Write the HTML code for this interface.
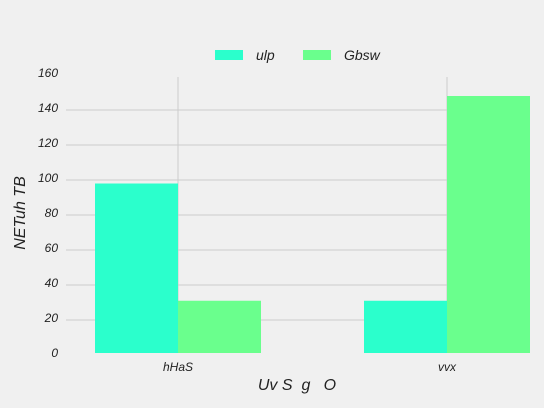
<!DOCTYPE html>
<html><head><meta charset="utf-8"><style>
body{margin:0;background:#f0f0f0}
svg{display:block;font-family:"Liberation Sans",sans-serif;font-style:italic}
</style></head><body>
<svg id="c" width="544" height="408">
<rect width="544" height="408" fill="#f0f0f0"/>
<g id="grid"></g><g id="bars"></g><g id="ticks"></g>
<g>
<rect x="215" y="50" width="28" height="10" fill="#2bffcc"/>
<text x="256" y="60" font-size="14" fill="#222">ulp</text>
<rect x="303" y="50" width="28" height="10" fill="#6aff8d"/>
<text x="344" y="60" font-size="14" fill="#222">Gbsw</text>
</g>
<text transform="translate(25,213) rotate(-90)" text-anchor="middle" font-size="16" fill="#222">NETuh TB</text>
<text x="297" y="390" text-anchor="middle" font-size="16" fill="#222" xml:space="preserve">Uv S  g   O</text>
</svg>
<script>
const categories=["hHaS","vvx"];
const seriesNames=["ulp","Gbsw"];
const ulpValues=[98,31];
const gbswValues=[31,148];
const yTicks=[0,20,40,60,80,100,120,140,160];
const colors=["#2bffcc","#6aff8d"];
const NS="http://www.w3.org/2000/svg";
function y(v){return 355-1.75*v;}
function xc(i){return 178+269*i;}
const bw=83;
function mk(t,a,p){const e=document.createElementNS(NS,t);for(const k in a)e.setAttribute(k,a[k]);p.appendChild(e);return e;}
const grid=document.getElementById('grid'),bars=document.getElementById('bars'),ticks=document.getElementById('ticks');
yTicks.forEach(v=>{
  if(v>0&&v<160){const l=mk('line',{x1:66,x2:530,y1:y(v),y2:y(v),stroke:'#cccccc','stroke-width':1},grid);
  
  }
  const t=mk('text',{x:58,y:y(v)+2,'text-anchor':'end','font-size':12,fill:'#222'},ticks);
  t.textContent=v;
  
  
});
categories.forEach((c,i)=>{
  const g=mk('line',{x1:xc(i),x2:xc(i),y1:77,y2:353,stroke:'#cccccc','stroke-width':1},grid);
  
  
  [ulpValues,gbswValues].forEach((vals,s)=>{
    const x=s===0?xc(i)-bw:xc(i);
    const r=mk('rect',{x:x,y:y(vals[i]),width:bw,height:353-y(vals[i]),fill:colors[s]},bars);
    
    
  });
  const t=mk('text',{x:xc(i),y:371,'text-anchor':'middle','font-size':12,fill:'#222'},ticks);
  t.textContent=c;
  
  
});
</script>
</body></html>
